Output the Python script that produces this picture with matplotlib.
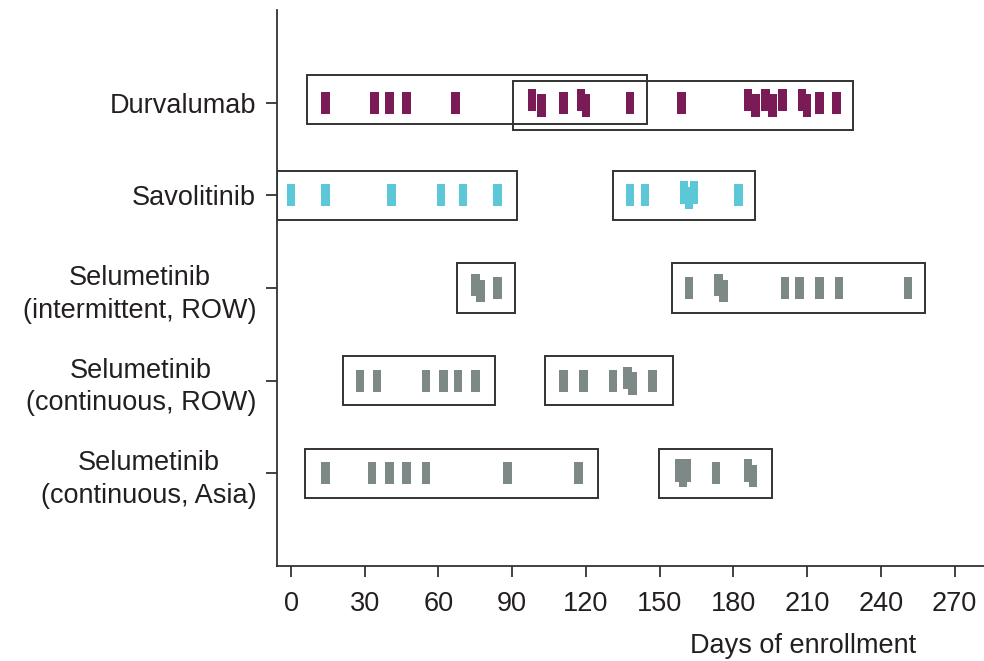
import numpy as np
import matplotlib.pyplot as plt
from matplotlib.patches import Rectangle

plt.rcParams['font.family'] = ['Liberation Sans', 'DejaVu Sans']

# Behandlungsarme, von oben nach unten
arms = ["Durvalumab",
        "Savolitinib",
        "Selumetinib\n(intermittent, ROW)",
        "Selumetinib\n(continuous, ROW)",
        "Selumetinib\n(continuous, Asia)"]
arm_colors = ["#7a1a57", "#5cc7d6", "#7c8987", "#7c8987", "#7c8987"]

# Ereignisse (Tage seit Einschluss)
durvalumab_days = [14, 34, 40, 47, 67, 98, 102, 111, 118, 120, 138, 159,
                   186, 189, 193, 196, 200, 208, 210, 215, 222]
savolitinib_days = [0, 14, 41, 61, 70, 84, 138, 144, 160, 162, 164, 182]
selu_int_row_days = [75, 77, 84, 162, 174, 176, 201, 207, 215, 223, 251]
selu_cont_row_days = [28, 35, 55, 62, 68, 75, 111, 119, 131, 137, 139, 147]
selu_cont_asia_days = [14, 33, 40, 47, 55, 88, 117, 158, 159.5, 161, 173, 186, 188]

# Zeitfenster (Start, Ende) pro Arm
durvalumab_windows = [(6.5, 145), (90.5, 228.5)]
savolitinib_windows = [(-5.7, 92), (131, 188.7)]
selu_int_row_windows = [(67.4, 91), (155, 258)]
selu_cont_row_windows = [(21, 83), (103.3, 155.5)]
selu_cont_asia_windows = [(5.7, 125), (149.7, 195.8)]

all_days = [durvalumab_days, savolitinib_days, selu_int_row_days,
            selu_cont_row_days, selu_cont_asia_days]
all_windows = [durvalumab_windows, savolitinib_windows, selu_int_row_windows,
               selu_cont_row_windows, selu_cont_asia_windows]

mark_w = 3.5     # Breite einer Markierung (Tage)
mark_h = 0.24    # Höhe einer Markierung
shift = 0.03     # Versatz bei nahe beieinander liegenden Markierungen
box_h = 0.53


def stagger(days, gap=5):
    """Versetzt eng beieinander liegende Markierungen abwechselnd nach oben/unten."""
    days = np.asarray(days, dtype=float)
    cluster = np.concatenate([[0], np.cumsum(np.diff(days) >= gap)])
    off = np.zeros(len(days))
    for c in np.unique(cluster):
        idx = np.where(cluster == c)[0]
        if len(idx) > 1:
            off[idx] = [shift if k % 2 == 0 else -shift for k in range(len(idx))]
    return off


fig = plt.figure(figsize=(9.84, 6.61), dpi=100)
ax = fig.add_axes([0.2815, 0.1437, 0.7185, 0.8412])

n = len(arms)
rows = np.arange(n, 0, -1)

for row, days, windows, col in zip(rows, all_days, all_windows, arm_colors):
    off = stagger(days)
    ax.bar(days, mark_h, width=mark_w, bottom=row - mark_h / 2 + off,
           color=col, edgecolor='none', zorder=2)
    # überlappende Fenster leicht versetzen
    overlap = windows[1][0] < windows[0][1]
    for k, (s, e) in enumerate(windows):
        dy = (0.03 if k == 0 else -0.03) if overlap else 0
        ax.add_patch(Rectangle((s, row - box_h / 2 + dy), e - s, box_h,
                               fill=False, edgecolor='#333333', lw=1.4, zorder=3))

ax.set_xlim(-5.7, 282)
ax.set_ylim(0, 6)
ax.set_xticks(np.arange(0, 271, 30))
ax.set_yticks(rows)
ax.set_yticklabels(arms, multialignment='center', linespacing=1.33)

for s in ['top', 'right']:
    ax.spines[s].set_visible(False)
for s in ['left', 'bottom']:
    ax.spines[s].set_linewidth(1.3)
    ax.spines[s].set_color('#333333')

ax.tick_params(axis='both', labelsize=19.5, colors='#333333', labelcolor='#231f20',
               width=1.3, length=8)
ax.tick_params(axis='x', pad=10)
ax.tick_params(axis='y', pad=7)

ax.set_xlabel('Days of enrollment', fontsize=19.5, color='#231f20')
ax.xaxis.set_label_coords(0.744, -0.12)

fig.savefig('out.png', dpi=100)
